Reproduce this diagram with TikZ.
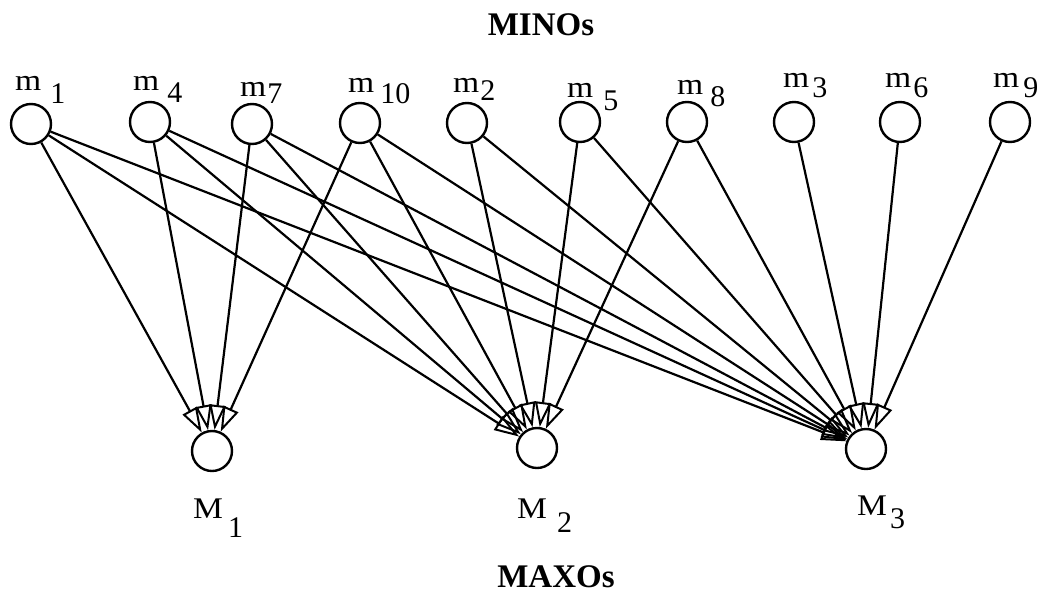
\documentclass[tikz,border=0pt]{standalone}
\usepackage{fontspec}
\usepackage{graphicx}
\setmainfont{Liberation Serif}
\usetikzlibrary{arrows.meta}
\newcommand\mylab[4]{\scalebox{1.12}[1]{#1}\hspace{#2pt}\raisebox{-#3pt}{#4}}
\begin{document}
\begin{tikzpicture}[x=1pt,y=-1pt,
  neuron/.style={circle,draw,line width=2.4pt,minimum size=40pt,inner sep=0pt},
  lbl/.style={font=\fontsize{30}{32}\selectfont,inner sep=0pt,anchor=base west},
  ttl/.style={font=\fontsize{33}{36}\selectfont\bfseries,inner sep=0pt,anchor=base},
  link/.style={line width=2.2pt,-{Triangle[open,length=25pt,width=16pt,line width=2pt]}}]
\useasboundingbox (0,0) rectangle (1044,595);

% titles
\node[ttl] (minos) at (541,35) {MINOs};
\node[ttl] (maxos) at (556,587) {MAXOs};

% MINO neurons
\node[neuron] (m1)  at (31,124)  {};
\node[neuron] (m4)  at (150,122) {};
\node[neuron] (m7)  at (252,124) {};
\node[neuron] (m10) at (360,123) {};
\node[neuron] (m2)  at (467,123) {};
\node[neuron] (m5)  at (580,122) {};
\node[neuron] (m8)  at (687,122) {};
\node[neuron] (m3)  at (794,122) {};
\node[neuron] (m6)  at (900,122) {};
\node[neuron] (m9)  at (1010,122) {};

% MAXO neurons
\node[neuron] (M1) at (212,451) {};
\node[neuron] (M2) at (537,448) {};
\node[neuron] (M3) at (866,449) {};

% labels
\node[lbl] (l1)  at (15,90)  {\mylab{m}{9}{13}{1}};
\node[lbl] (l4)  at (133,90) {\mylab{m}{8}{12}{4}};
\node[lbl] (l7)  at (240,96) {\mylab{m}{1}{7}{7}};
\node[lbl] (l10) at (348,92) {\mylab{m}{6}{11}{10}};
\node[lbl] (l2)  at (453,92) {\mylab{m}{1}{8}{2}};
\node[lbl] (l5)  at (567,97) {\mylab{m}{10}{13}{5}};
\node[lbl] (l8)  at (677,94) {\mylab{m}{7}{12}{8}};
\node[lbl] (l3)  at (783,87) {\mylab{m}{3}{10}{3}};
\node[lbl] (l6)  at (885,87) {\mylab{m}{2}{10}{6}};
\node[lbl] (l9)  at (993,87) {\mylab{m}{4}{10}{9}};

\node[lbl] (L1) at (193,518) {\mylab{M}{5}{19}{1}};
\node[lbl] (L2) at (517,518) {\mylab{M}{10}{14}{2}};
\node[lbl] (L3) at (857,515) {\mylab{M}{3}{13}{3}};

% connections
\foreach \s in {m1,m4,m7,m10}
  \draw[link] (\s) -- (M1);
\foreach \s in {m1,m4,m7,m10,m2,m5,m8}
  \draw[link] (\s) -- (M2);
\foreach \s in {m1,m4,m7,m10,m2,m5,m8,m3,m6,m9}
  \draw[link] (\s) -- (M3);
\end{tikzpicture}
\end{document}
